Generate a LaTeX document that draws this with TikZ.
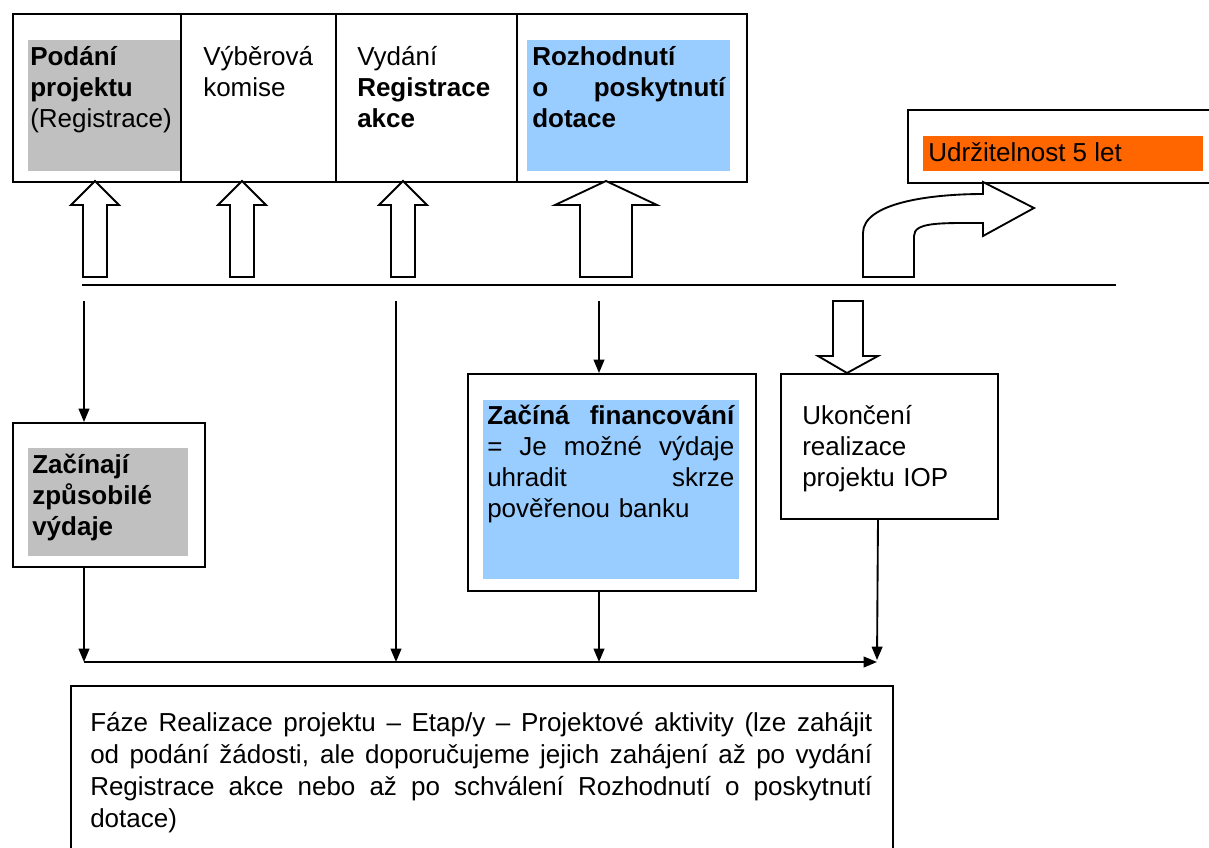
\documentclass[tikz,border=0pt]{standalone}
\usepackage{fontspec}
\setmainfont{Liberation Sans}
\usetikzlibrary{arrows.meta}
\definecolor{grayfill}{RGB}{192,192,192}
\definecolor{bluefill}{RGB}{153,204,255}
\definecolor{orangefill}{RGB}{255,102,0}
\tikzstyle{frame}=[draw, line width=1.4pt, inner sep=0pt, anchor=north west]
\tikzstyle{boxtext}=[inner sep=0pt, anchor=base west, align=left, font=\fontsize{19.5}{23.25}\selectfont]
\tikzstyle{flow}=[-{Triangle[length=10pt, width=8pt]}, line width=1.4pt]
\tikzstyle{fat}=[draw, line width=1.4pt, fill=white, line join=miter]
\newcommand{\spread}[2]{\leavevmode\hbox to #1{\spaceskip=\fontdimen2\font plus 1fil\xspaceskip=\spaceskip\relax #2}}

\begin{document}
\begin{tikzpicture}[x=0.75pt, y=-0.75pt]
    \useasboundingbox (0,0) rectangle (1209,847);
    % coloured backgrounds
    \fill[grayfill]   (28,40)   rectangle (180,171);
    \fill[bluefill]   (527,40)  rectangle (730,171);
    \fill[orangefill] (923,136) rectangle (1203,171);
    \fill[grayfill]   (28,448)  rectangle (188,556);
    \fill[bluefill]   (483,400) rectangle (739,579);

    % top row
    \node[frame, minimum width=126pt,    minimum height=126pt] (podani) at (12,13) {};
    \node[frame, minimum width=116.25pt, minimum height=126pt] (vyber)  at (180,13) {};
    \node[frame, minimum width=135.75pt, minimum height=126pt] (vydani) at (335,13) {};
    \node[frame, minimum width=172.5pt,  minimum height=126pt] (rozhod) at (516,13) {};
    \node[frame, minimum width=228pt,    minimum height=54.75pt] (udrz) at (907,109) {};

    \node[boxtext, text width=112.5pt] (podanitxt) at (30,65)
        {\textbf{Podání}\\\textbf{projektu}\\(Registrace)};
    \node[boxtext, text width=105pt] (vybertxt) at (203,65) {Výběrová\\komise};
    \node[boxtext, text width=112.5pt] (vydanitxt) at (357,65)
        {Vydání\\\textbf{Registrace}\\\textbf{akce}};
    \node[boxtext, text width=144.75pt] (rozhodtxt) at (532,65)
        {\bfseries Rozhodnutí\\\spread{144.75pt}{o poskytnutí}\\dotace};
    \node[boxtext] (udrztxt) at (928,161) {Udržitelnost 5 let};

    % hollow arrows up to the top row
    \foreach \cx/\hw/\hh in {95/12/24, 242/12/24, 403/12/24, 606/26/51}
        \draw[fat] (\cx,181) -- (\cx+\hh,205) -- (\cx+\hw,205) -- (\cx+\hw,277)
            -- (\cx-\hw,277) -- (\cx-\hw,205) -- (\cx-\hh,205) -- cycle;

    % bent arrow to Udrzitelnost
    \draw[fat] (863,277) -- (863,233) .. controls (863,203) and (930,194) .. (983,194)
        -- (983,182) -- (1034,208) -- (983,236) -- (983,223)
        .. controls (940,223) and (914,222) .. (914,236) -- (914,277) -- cycle;

    % time line
    \coordinate (tlL) at (82,285);
    \coordinate (tlR) at (1116,285);
    \draw[line width=1.4pt] (tlL) -- (tlR);

    % middle row
    \node[frame, minimum width=144pt,    minimum height=108pt]    (zacinaji) at (12,422) {};
    \node[frame, minimum width=216pt,    minimum height=162.75pt] (financ)   at (467,373) {};
    \node[frame, minimum width=162.75pt, minimum height=108.75pt] (ukonc)    at (780,373) {};

    \node[boxtext, text width=120pt] (zacinajitxt) at (32,473)
        {\bfseries Začínají\\způsobilé\\výdaje};
    \node[boxtext, text width=185.25pt] (financtxt) at (487,424)
        {\spread{185.25pt}{\bfseries Začíná financování}\\\spread{185.25pt}{= Je možné výdaje}\\\spread{185.25pt}{uhradit skrze}\\pověřenou banku};
    \node[boxtext, text width=150pt] (ukonctxt) at (802,424)
        {Ukončení\\realizace\\projektu IOP};

    % hollow arrow down to Ukonceni
    \draw[fat] (847,373) -- (878,356) -- (863,356) -- (863,301) -- (833,301)
        -- (833,356) -- (818,356) -- cycle;

    % arrows from the time line
    \coordinate (d1) at (84,301);
    \coordinate (d2) at (396,301);
    \coordinate (d3) at (599,301);
    \draw[flow] (d1) -- (d1 |- zacinaji.north);
    \draw[flow] (d3) -- (d3 |- financ.north);

    % bottom collecting line
    \coordinate (bL) at (84,662);
    \coordinate (bR) at (877,662);
    \draw[flow] (bL) -- (bR);
    \draw[flow] (d1 |- zacinaji.south) -- (bL);
    \draw[flow] (d2) -- (d2 |- bL);
    \draw[flow] (d3 |- financ.south) -- (d3 |- bL);
    \draw[flow] (878,518) -- (877,660);

    % realisation phase
    \node[frame, minimum width=616.5pt, minimum height=138.75pt] (faze) at (70,685) {};
    \node[boxtext, text width=586.5pt, font=\fontsize{19.5}{24}\selectfont] (fazetxt) at (90,731)
        {\spread{586.5pt}{Fáze Realizace projektu – Etap/y – Projektové aktivity (lze zahájit}\\
         \spread{586.5pt}{od podání žádosti, ale doporučujeme jejich zahájení až po vydání}\\
         \spread{586.5pt}{Registrace akce nebo až po schválení Rozhodnutí o poskytnutí}\\
         dotace)};
\end{tikzpicture}
\end{document}
